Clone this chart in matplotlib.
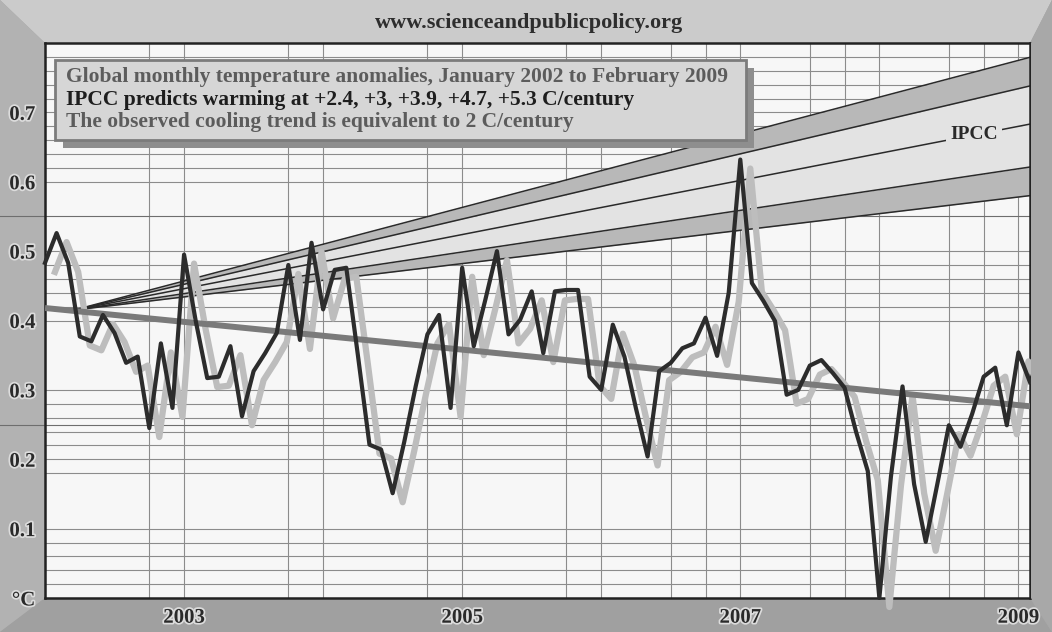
import matplotlib
matplotlib.use('Agg')
import matplotlib.pyplot as plt
import matplotlib.patheffects as pe
from matplotlib import transforms
from matplotlib.patches import Polygon, Rectangle
import numpy as np

# monthly anomalies, Jan 2002 (month 0) .. Feb 2009 (month 85)
anomaly = [0.483, 0.526, 0.483, 0.377, 0.370, 0.408, 0.382, 0.339, 0.348, 0.245,
           0.367, 0.274, 0.495, 0.400, 0.317, 0.319, 0.363, 0.262, 0.327, 0.353,
           0.382, 0.480, 0.372, 0.512, 0.416, 0.473, 0.476, 0.350, 0.221, 0.214,
           0.151, 0.225, 0.306, 0.380, 0.408, 0.274, 0.476, 0.363, 0.430, 0.500,
           0.380, 0.401, 0.442, 0.353, 0.442, 0.444, 0.444, 0.319, 0.300, 0.394,
           0.348, 0.273, 0.204, 0.327, 0.339, 0.360, 0.367, 0.404, 0.349, 0.440,
           0.632, 0.454, 0.428, 0.399, 0.293, 0.300, 0.335, 0.343, 0.324, 0.303,
           0.239, 0.183, 0.000, 0.175, 0.305, 0.164, 0.081, 0.164, 0.249, 0.218,
           0.265, 0.319, 0.332, 0.249, 0.354, 0.311]
months = np.arange(len(anomaly))

ipcc_rates = [2.4, 3.0, 3.9, 4.7, 5.3]      # C/century
ipcc_start_month = 2.5
ipcc_start_value = 0.415
trend_rate = -2.0                           # C/century
trend_start_value = 0.418

year_ticks = [12, 36, 60, 84]
year_labels = ['2003', '2005', '2007', '2009']
y_ticks = [0.0, 0.1, 0.2, 0.3, 0.4, 0.5, 0.6, 0.7]
y_labels = ['°C', '0.1', '0.2', '0.3', '0.4', '0.5', '0.6', '0.7']

# grid lines of the original chart
grid_months = [9, 12, 21, 24, 33, 36, 45, 48, 54, 57, 60, 66, 69, 72, 78, 81, 84]
grid_minor = [0.02, 0.04, 0.06, 0.08, 0.18, 0.22, 0.24, 0.26, 0.28,
              0.42, 0.44, 0.46, 0.48, 0.62, 0.64, 0.66, 0.68, 0.72, 0.74, 0.76, 0.78]

W, H = 1052, 632
serif = 'Liberation Serif'

def fx(px):
    return px / W

def fy(py):
    return 1 - py / H

fig = plt.figure(figsize=(W / 100, H / 100), dpi=100)
fig.patch.set_facecolor('#a6a6a6')

# 3d-looking frame around the plot
L, R, T, B = 45, 1030, 43, 598
bands = [([(0, 0), (W, 0), (R, T), (L, T)], '#cbcbcb'),
         ([(0, 0), (L, T), (L, B), (0, H)], '#b2b2b2'),
         ([(0, H), (L, B), (R, B), (W, H)], '#a0a0a0'),
         ([(W, 0), (R, T), (R, B), (W, H)], '#a8a8a8')]
for pts, c in bands:
    fig.add_artist(Polygon([(fx(a), fy(b)) for a, b in pts], closed=True,
                           transform=fig.transFigure, facecolor=c, edgecolor='none', zorder=-5))
# right band again, on top, so the shadow line does not show past the frame
fig.add_artist(Polygon([(fx(a), fy(b)) for a, b in [(W, 0), (R + 1, T), (R + 1, B), (W, H)]],
                       closed=True, transform=fig.transFigure, facecolor='#a8a8a8',
                       edgecolor='none', zorder=1))

fig.text(fx(529), fy(23), 'www.scienceandpublicpolicy.org', ha='center', va='center',
         family=serif, weight='bold', fontsize=16, color='#2e2e2e')

ax = fig.add_axes([fx(L), fy(B), (R - L) / W, (B - T) / H])
ax.set_facecolor('#f7f7f7')
ax.set_xlim(0, 85)
ax.set_ylim(0, 0.80)

for v in y_ticks[1:] + grid_minor:
    ax.axhline(v, color='#8c8c8c', lw=0.8, zorder=0.5)
for m in grid_months:
    ax.axvline(m, color='#8c8c8c', lw=0.8, zorder=0.5)
for v in [0.25, 0.55]:
    ax.axhline(v, xmin=-L / (R - L), xmax=1 + (W - R) / (R - L), clip_on=False,
               color='#6e6e6e', lw=0.8, zorder=0.6)

# IPCC fan
fan_x = np.array([ipcc_start_month, 85])
fan = [ipcc_start_value + r / 100 / 12 * (fan_x - ipcc_start_month) for r in ipcc_rates]
band_cols = ['#b8b8b8', '#e3e3e3', '#e3e3e3', '#b8b8b8']
for k in range(4):
    ax.fill_between(fan_x, fan[k], fan[k + 1], color=band_cols[k], lw=0, zorder=1)
for f in fan:
    ax.plot(fan_x, f, color='#2a2a2a', lw=1.1, zorder=2)
lab_m = 80.2
lab_v = ipcc_start_value + ipcc_rates[2] / 100 / 12 * (lab_m - ipcc_start_month)
ax.text(lab_m, lab_v, 'IPCC', ha='center', va='center', family=serif, weight='bold',
        fontsize=14, color='#2a2a2a', zorder=2.5,
        bbox=dict(facecolor='#e3e3e3', edgecolor='none', pad=3))

# observed cooling trend
trend_x = np.array([0, 85])
trend = trend_start_value + trend_rate / 100 / 12 * trend_x
ax.plot(trend_x, trend, color='#7a7a7a', lw=4.3, zorder=4, solid_capstyle='butt')

# temperature line and its drop shadow
shadow_tr = transforms.offset_copy(ax.transData, fig=fig, x=10, y=-9, units='dots')
ax.plot(months, anomaly, color='#bdbdbd', lw=4.5, transform=shadow_tr, clip_on=False, zorder=3)
ax.plot(months, anomaly, color='#2c2c2c', lw=3.0, clip_on=False, zorder=5)

for s in ax.spines.values():
    s.set_color('#222222')
    s.set_linewidth(1.8)

ax.set_xticks(year_ticks, year_labels)
ax.set_yticks(y_ticks, y_labels)
ax.tick_params(length=0)
ax.tick_params(axis='x', pad=7)
ax.tick_params(axis='y', pad=7)
halo = [pe.withStroke(linewidth=2.5, foreground='#dcdcdc')]
for t in ax.get_xticklabels() + ax.get_yticklabels():
    t.set_fontfamily(serif)
    t.set_fontweight('bold')
    t.set_fontsize(15)
    t.set_color('#2a2a2a')
    t.set_path_effects(halo)

# description box with its shadow
fig.add_artist(Rectangle((fx(63), fy(148)), (746 - 55) / W, 80 / H, transform=fig.transFigure,
                         facecolor='#8e8e8e', edgecolor='none', zorder=6))
fig.add_artist(Rectangle((fx(55), fy(140)), (746 - 55) / W, 80 / H, transform=fig.transFigure,
                         facecolor='#d6d6d6', edgecolor='#7c7c7c', lw=2, zorder=7))
lines = ['Global monthly temperature anomalies, January 2002 to February 2009',
         'IPCC predicts warming at +2.4, +3, +3.9, +4.7, +5.3 C/century',
         'The observed cooling trend is equivalent to 2 C/century']
cols = ['#5c5c5c', '#1e1e1e', '#5c5c5c']
for k, (s, c) in enumerate(zip(lines, cols)):
    fig.text(fx(66), fy(77 + 22.5 * k), s, ha='left', va='center', family=serif,
             weight='bold', fontsize=15.5, color=c, zorder=8)

fig.savefig('out.png', dpi=100, facecolor=fig.get_facecolor())
